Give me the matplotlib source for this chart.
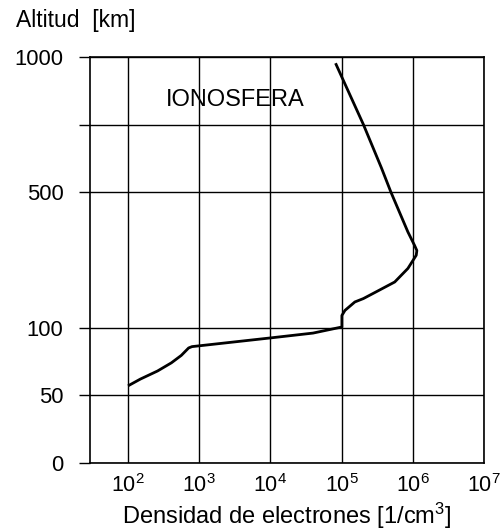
import numpy as np
import matplotlib
matplotlib.use("Agg")
import matplotlib.pyplot as plt

plt.rcParams['font.family'] = ['Liberation Sans', 'DejaVu Sans']
plt.rcParams['mathtext.fontset'] = 'custom'
plt.rcParams['mathtext.rm'] = 'Liberation Sans'
plt.rcParams['mathtext.it'] = 'Liberation Sans:italic'
plt.rcParams['mathtext.bf'] = 'Liberation Sans:bold'

# Electron density [1/cm^3] vs altitude [km]
density = [100, 149, 260, 406, 560, 710, 792, 10316, 39720, 73960, 100900, 100900,
           111400, 153500, 202300, 293800, 557200, 853000, 1117000, 1140000,
           1059000, 853000, 494000, 363000, 202000, 82200]
altitude = [57, 62, 68, 74, 79.5, 85, 86, 92.5, 96, 99, 102, 136,
            151, 176, 186, 204, 235, 275, 314, 328,
            343, 383, 500, 590, 751, 977]

y_ticks = [0, 50, 100, 500, 750, 1000]
y_tick_labels = ['0', '50', '100', '500', '', '1000']
x_ticks = [1e2, 1e3, 1e4, 1e5, 1e6, 1e7]
x_tick_labels = [r'$\mathregular{10^{%d}}$' % e for e in range(2, 8)]

# piecewise-linear altitude scale
y_nodes = [0, 50, 100, 500, 1000]
u_nodes = [0, 1, 2, 4, 6]

def fwd(y):
    return np.interp(np.asarray(y, dtype=float), y_nodes, u_nodes)

def inv(u):
    return np.interp(np.asarray(u, dtype=float), u_nodes, y_nodes)

fig = plt.figure(figsize=(5.04, 5.32), dpi=100)
ax = fig.add_axes([90/504, 1-463/532, (484-90)/504, (463-57)/532])

ax.set_xscale('log')
ax.set_yscale('function', functions=(fwd, inv))
ax.set_xlim(10**1.466, 1e7)
ax.set_ylim(0, 1000)

ax.plot(density, altitude, color='black', lw=2.0, solid_capstyle='butt',
        solid_joinstyle='round', zorder=3)

ax.set_xticks(x_ticks)
ax.set_xticklabels(x_tick_labels, fontsize=15.5)
ax.xaxis.set_minor_locator(matplotlib.ticker.NullLocator())
ax.set_yticks(y_ticks)
ax.set_yticklabels(y_tick_labels, fontsize=15.8)
ax.yaxis.set_minor_locator(matplotlib.ticker.NullLocator())

ax.tick_params(axis='x', length=0, pad=8)
ax.tick_params(axis='y', length=8, width=1.0, direction='out', pad=11)
ax.grid(True, color='black', lw=1.0)
for s in ax.spines.values():
    s.set_color('black')
    s.set_linewidth(1.2)

ax.text(10**3.5, 840, 'IONOSFERA', fontsize=17, ha='center', va='center')
fig.text(16/504, 1-20/532, 'Altitud  [km]', fontsize=16.5, ha='left', va='center')
ax.set_xlabel(r'Densidad de electrones [1/cm$\mathregular{^3}$]', fontsize=17, labelpad=3)

fig.savefig('out.png', dpi=100)
